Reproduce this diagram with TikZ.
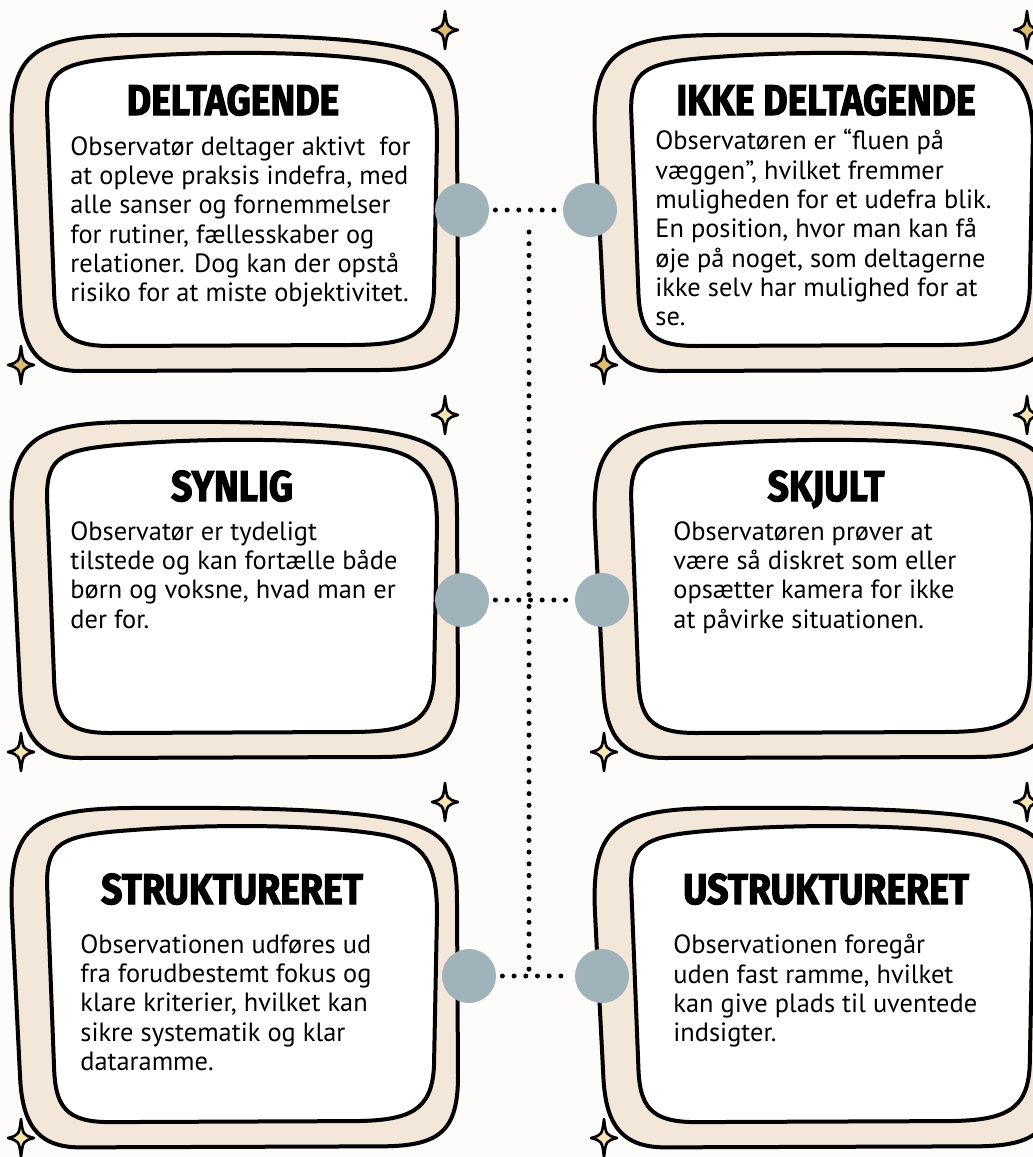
\documentclass[tikz,border=0pt]{standalone}
\usepackage{fontspec}
\setmainfont{PT Sans}
\newfontfamily\titlefont{Fira Sans}[FakeStretch=0.87, BoldFeatures={FakeBold=2.5}]
\usetikzlibrary{positioning}
\definecolor{bgcol}{HTML}{FDFCFA}
\definecolor{beige}{HTML}{F3E7DA}
\definecolor{knobblue}{HTML}{A0B3BB}
\definecolor{gold}{HTML}{DFBD70}
\definecolor{cream}{HTML}{F7E4B0}

\begin{document}
\begin{tikzpicture}[x=0.5pt,y=-0.5pt,
    rim/.style={line width=2pt,line join=round},
    knob/.style={circle,fill=knobblue,minimum size=27pt,inner sep=0pt},
    link/.style={line width=2.5pt,line cap=round,dash pattern=on 0pt off 5.85pt,shorten <=3pt,shorten >=3pt},
    heading/.style={font=\titlefont\bfseries\fontsize{21.5}{24}\selectfont,anchor=base,inner sep=0pt},
    body/.style={font=\fontsize{13.2}{14.65}\selectfont,align=left,anchor=north west,inner sep=0pt},
    pics/card/.style={code={
        \filldraw[rim,fill=beige] (2,105) .. controls (-2,20) and (20,1) .. (120,0)
            .. controls (240,-1) and (350,1) .. (400,15)
            .. controls (440,27) and (447,45) .. (447,95) -- (448,265)
            .. controls (448,320) and (430,335) .. (370,335) -- (70,336)
            .. controls (25,336) and (12,310) .. (10,265) -- cycle;
        \filldraw[rim,fill=white] (37,75) .. controls (37,35) and (50,27) .. (120,22)
            .. controls (210,15) and (320,17) .. (375,27)
            .. controls (415,35) and (427,55) .. (427,105) -- (424,255)
            .. controls (422,300) and (400,310) .. (340,310) -- (100,311)
            .. controls (55,311) and (45,295) .. (44,255) -- cycle;
    }},
    pics/sparkle/.style={code={
        \filldraw[line width=1.3pt,line join=round,fill=#1] (0,-19) .. controls (2,-3) .. (13,0)
            .. controls (2,3) .. (0,19) .. controls (-2,3) .. (-13,0)
            .. controls (-2,-3) .. (0,-19) -- cycle;
    }}]

    \useasboundingbox (0,0) rectangle (1033,1157);
    \fill[bgcol] (0,0) rectangle (1033,1157);
    \clip (0,0) rectangle (1033,1157);

    % cards
    \pic at (10,35) {card};
    \pic[xscale=1.03] at (593,35) {card};
    \pic at (10,422) {card};
    \pic[xscale=1.03] at (593,422) {card};
    \pic[yscale=1.01] at (10,808) {card};
    \pic[xscale=1.03,yscale=1.01] at (593,808) {card};

    % sparkles
    \pic at (445,30) {sparkle=gold};
    \pic at (1027,30) {sparkle=gold};
    \pic at (21,365) {sparkle=gold};
    \pic at (604,365) {sparkle=gold};
    \pic at (445,415) {sparkle=cream};
    \pic at (1027,415) {sparkle=cream};
    \pic at (21,752) {sparkle=cream};
    \pic at (604,752) {sparkle=cream};
    \pic at (445,802) {sparkle=cream};
    \pic at (1027,802) {sparkle=cream};
    \pic at (21,1138) {sparkle=cream};
    \pic at (604,1138) {sparkle=cream};

    % titles
    \node[heading] (h1) at (233,115) {DELTAGENDE};
    \node[heading] (h2) at (826,115) {IKKE DELTAGENDE};
    \node[heading] (h3) at (232,501) {SYNLIG};
    \node[heading] (h4) at (826,501) {SKJULT};
    \node[heading] (h5) at (232,904) {STRUKTURERET};
    \node[heading] (h6) at (826,904) {USTRUKTURERET};

    % texts
    \node[body] (t1) at (70,136) {Observatør deltager aktivt\ \ for\\at opleve praksis indefra, med\\alle sanser og fornemmelser\\for rutiner, fællesskaber og\\relationer. Dog kan der opstå\\risiko for at miste objektivitet.};
    \node[body] (t2) at (655,129) {Observatøren er “fluen på\\væggen”, hvilket fremmer\\muligheden for et udefra blik.\\En position, hvor man kan få\\øje på noget, som deltagerne\\ikke selv har mulighed for at\\se.};
    \node[body] (t3) at (70,521) {Observatør er tydeligt\\tilstede og kan fortælle både\\børn og voksne, hvad man er\\der for.};
    \node[body] (t4) at (673,521) {Observatøren prøver at\\være så diskret som eller\\opsætter kamera for ikke\\at påvirke situationen.};
    \node[body] (t5) at (80,934) {Observationen udføres ud\\fra forudbestemt fokus og\\klare kriterier, hvilket kan\\sikre systematik og klar\\dataramme.};
    \node[body] (t6) at (673,934) {Observationen foregår\\uden fast ramme, hvilket\\kan give plads til uventede\\indsigter.};

    % knobs and dotted links
    \node[knob] (l1) at (462,210) {};
    \node[knob] (r1) at (590,210) {};
    \node[knob] (l2) at (462,600) {};
    \node[knob] (r2) at (602,600) {};
    \node[knob] (l3) at (469,976) {};
    \node[knob] (r3) at (602,976) {};
    \coordinate (top) at (529,210);
    \coordinate (bot) at (529,976);

    \draw[link] (l1) -- (r1);
    \draw[link] (l2) -- (r2);
    \draw[link] (l3) -- (r3);
    \draw[link,shorten <=11pt,shorten >=0pt] (top) -- (bot);
\end{tikzpicture}
\end{document}
